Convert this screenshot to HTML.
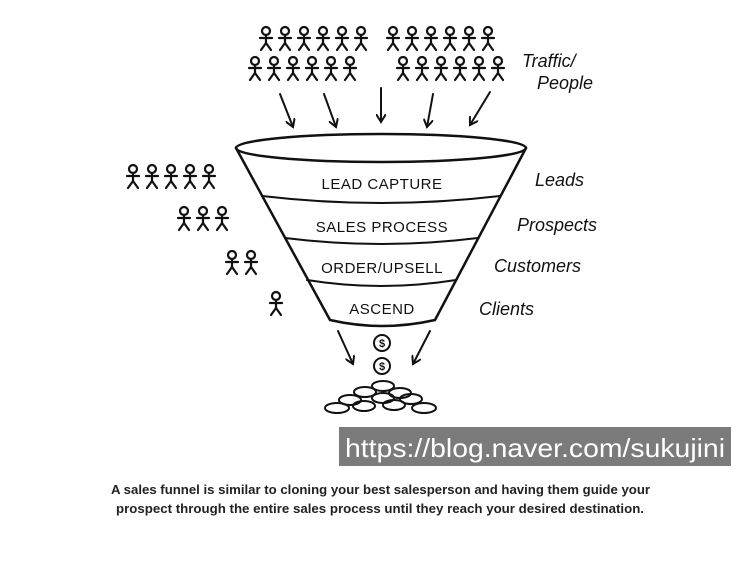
<!DOCTYPE html>
<html><head><style>
html,body{margin:0;padding:0;background:#fff;width:743px;height:569px;overflow:hidden}
svg{display:block}
.h{font-family:"Liberation Sans",sans-serif;font-size:18px;fill:#111;font-style:italic}
.f{font-family:"Liberation Sans",sans-serif;font-size:15px;fill:#111;letter-spacing:0.5px}
.c{font-family:"Liberation Sans",sans-serif;font-size:13px;font-weight:bold;fill:#222}
</style></head><body>
<svg width="743" height="569" viewBox="0 0 743 569">
<defs>
<g id="p" stroke="#111" stroke-width="2.2" fill="none" stroke-linecap="round">
<circle cx="0" cy="-7" r="4"/><line x1="0" y1="-3" x2="0" y2="5"/><line x1="-6" y1="0" x2="6" y2="0"/><line x1="0" y1="5" x2="-5" y2="12"/><line x1="0" y1="5" x2="5" y2="12"/>
</g>
<marker id="a" markerWidth="10" markerHeight="10" refX="8" refY="5" orient="auto" markerUnits="userSpaceOnUse"><path d="M0,0 L8,5 L0,10" fill="none" stroke="#111" stroke-width="2"/></marker>
</defs>
<g>
<use href="#p" x="266" y="38"/><use href="#p" x="285" y="38"/><use href="#p" x="304" y="38"/><use href="#p" x="323" y="38"/><use href="#p" x="342" y="38"/><use href="#p" x="361" y="38"/>
<use href="#p" x="393" y="38"/><use href="#p" x="412" y="38"/><use href="#p" x="431" y="38"/><use href="#p" x="450" y="38"/><use href="#p" x="469" y="38"/><use href="#p" x="488" y="38"/>
<use href="#p" x="255" y="68"/><use href="#p" x="274" y="68"/><use href="#p" x="293" y="68"/><use href="#p" x="312" y="68"/><use href="#p" x="331" y="68"/><use href="#p" x="350" y="68"/>
<use href="#p" x="403" y="68"/><use href="#p" x="422" y="68"/><use href="#p" x="441" y="68"/><use href="#p" x="460" y="68"/><use href="#p" x="479" y="68"/><use href="#p" x="498" y="68"/>
<use href="#p" x="133" y="176"/><use href="#p" x="152" y="176"/><use href="#p" x="171" y="176"/><use href="#p" x="190" y="176"/><use href="#p" x="209" y="176"/>
<use href="#p" x="184" y="218"/><use href="#p" x="203" y="218"/><use href="#p" x="222" y="218"/>
<use href="#p" x="232" y="262"/><use href="#p" x="251" y="262"/>
<use href="#p" x="276" y="303"/>
</g>
<g stroke="#111" stroke-width="2" fill="none" stroke-linecap="round">
<line x1="280" y1="94" x2="293" y2="127" marker-end="url(#a)"/>
<line x1="324" y1="94" x2="336" y2="127" marker-end="url(#a)"/>
<line x1="381" y1="88" x2="381" y2="122" marker-end="url(#a)"/>
<line x1="433" y1="94" x2="427" y2="127" marker-end="url(#a)"/>
<line x1="490" y1="92" x2="470" y2="125" marker-end="url(#a)"/>
<ellipse cx="381" cy="148" rx="145" ry="14" stroke-width="2.5"/>
<path d="M236,148 L330,320 Q382,332 435,320 L526,148" stroke-width="2.5"/>
<path d="M262,196 Q381,210 500,196"/>
<path d="M285,238 Q381,250 478,238"/>
<path d="M307,280 Q381,292 456,280"/>
<line x1="338" y1="331" x2="353" y2="364" marker-end="url(#a)"/>
<line x1="430" y1="331" x2="413" y2="364" marker-end="url(#a)"/>
<circle cx="382" cy="343" r="8"/><circle cx="382" cy="366" r="8"/>
<ellipse cx="383" cy="386" rx="11" ry="5"/><ellipse cx="365" cy="392" rx="11" ry="5"/><ellipse cx="400" cy="393" rx="11" ry="5"/>
<ellipse cx="350" cy="400" rx="11" ry="5"/><ellipse cx="383" cy="398" rx="11" ry="5"/><ellipse cx="411" cy="399" rx="11" ry="5"/>
<ellipse cx="337" cy="408" rx="12" ry="5"/><ellipse cx="364" cy="406" rx="11" ry="5"/><ellipse cx="394" cy="405" rx="11" ry="5"/><ellipse cx="424" cy="408" rx="12" ry="5"/>
</g>
<text x="382" y="347" font-family="Liberation Sans" font-size="11" font-weight="bold" text-anchor="middle" fill="#111">$</text>
<text x="382" y="370" font-family="Liberation Sans" font-size="11" font-weight="bold" text-anchor="middle" fill="#111">$</text>
<g text-anchor="middle">
<text x="382" y="189" class="f">LEAD CAPTURE</text>
<text x="382" y="232" class="f">SALES PROCESS</text>
<text x="382" y="273" class="f">ORDER/UPSELL</text>
<text x="382" y="314" class="f">ASCEND</text>
</g>
<text x="522" y="67" class="h">Traffic/</text>
<text x="537" y="89" class="h">People</text>
<text x="535" y="186" class="h">Leads</text>
<text x="517" y="231" class="h">Prospects</text>
<text x="494" y="272" class="h">Customers</text>
<text x="479" y="315" class="h">Clients</text>
<text x="346" y="462" class="c">Figure 1.6:</text>
<rect x="339" y="427" width="392" height="39" fill="#7b7b7b"/>
<text x="535" y="457" text-anchor="middle" font-family="Liberation Sans,sans-serif" font-size="26" fill="#fff" textLength="380" lengthAdjust="spacingAndGlyphs">https://blog.naver.com/sukujini</text>
<text x="111" y="494" class="c" textLength="539" lengthAdjust="spacingAndGlyphs">A sales funnel is similar to cloning your best salesperson and having them guide your</text>
<text x="116" y="513" class="c" textLength="528" lengthAdjust="spacingAndGlyphs">prospect through the entire sales process until they reach your desired destination.</text>
</svg>
</body></html>
